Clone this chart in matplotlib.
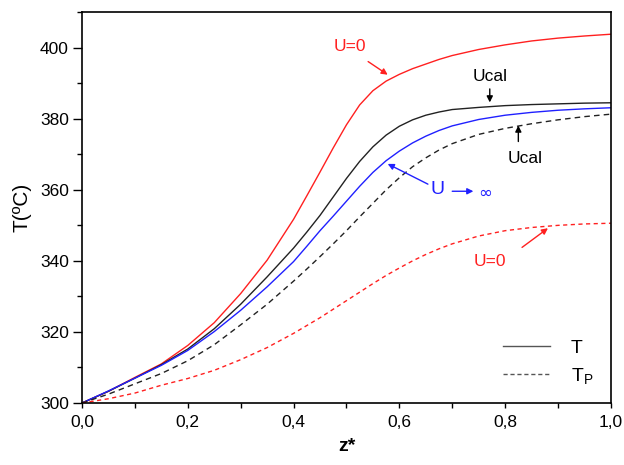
import matplotlib.pyplot as plt
from matplotlib.lines import Line2D
from matplotlib.ticker import FuncFormatter, MultipleLocator

plt.rcParams["font.family"] = ["Liberation Sans", "DejaVu Sans"]
plt.rcParams["mathtext.default"] = "regular"

# dimensionless reactor length
z = [0.0, 0.05, 0.1, 0.15, 0.2, 0.25, 0.3, 0.35, 0.4, 0.425, 0.45, 0.475,
     0.5, 0.525, 0.55, 0.575, 0.6, 0.625, 0.65, 0.675, 0.7, 0.75, 0.8,
     0.85, 0.9, 0.95, 1.0]

# gas temperature T
t_u0 = [300.0, 303.3, 307.2, 311.0, 316.2, 322.6, 330.8, 340.2, 351.7, 358.3,
        365.0, 371.8, 378.3, 383.9, 387.9, 390.6, 392.5, 394.1, 395.4, 396.7,
        397.8, 399.5, 400.8, 401.9, 402.7, 403.3, 403.8]
t_ucal = [300.0, 303.3, 307.0, 310.8, 315.2, 320.9, 327.8, 335.5, 343.6, 348.1,
          352.8, 358.0, 363.2, 368.0, 372.1, 375.4, 377.9, 379.7, 381.0, 381.9,
          382.6, 383.2, 383.7, 384.0, 384.2, 384.4, 384.5]
t_uinf = [300.0, 303.4, 307.0, 310.6, 314.8, 320.1, 326.1, 332.7, 339.8, 344.1,
          348.5, 352.6, 356.8, 361.0, 364.9, 368.2, 370.9, 373.2, 375.1, 376.7,
          378.0, 379.8, 381.0, 381.8, 382.4, 382.8, 383.1]

# particle temperature Tp
tp_u0 = [300.0, 301.2, 302.8, 305.0, 306.9, 309.2, 312.2, 315.6, 319.6, 321.8,
         324.0, 326.4, 328.8, 331.2, 333.6, 335.9, 338.0, 340.0, 341.8, 343.4,
         344.8, 347.0, 348.5, 349.4, 350.0, 350.4, 350.6]
tp_ucal = [300.0, 302.5, 305.4, 308.3, 311.9, 316.4, 322.0, 327.8, 334.3, 337.7,
           341.2, 344.8, 348.5, 352.4, 356.2, 360.0, 363.4, 366.5, 369.0, 371.2,
           373.0, 375.6, 377.3, 378.6, 379.7, 380.6, 381.3]

x_ticks = [0.0, 0.2, 0.4, 0.6, 0.8, 1.0]
y_ticks = [300, 320, 340, 360, 380, 400]

RED = "#ff2020"
BLACK = "#222222"
BLUE = "#2020ff"

fig = plt.figure(figsize=(6.24, 4.65), dpi=100)
ax = fig.add_axes([0.1314, 0.1333, 0.8476, 0.8405])

ax.plot(z, t_u0, color=RED, lw=1.0)
ax.plot(z, t_ucal, color=BLACK, lw=1.0)
ax.plot(z, t_uinf, color=BLUE, lw=1.0)
ax.plot(z, tp_ucal, color=BLACK, lw=1.0, dashes=(4, 3))
ax.plot(z, tp_u0, color=RED, lw=1.0, dashes=(3, 2.5))

ax.set_xlim(0, 1)
ax.set_ylim(300, 410)
ax.set_xticks(x_ticks)
ax.set_yticks(y_ticks)
ax.xaxis.set_minor_locator(MultipleLocator(0.1))
ax.yaxis.set_minor_locator(MultipleLocator(10))
ax.xaxis.set_major_formatter(FuncFormatter(lambda v, _: f"{v:.1f}".replace(".", ",")))
ax.tick_params(axis="both", which="both", direction="out", labelsize=12.5,
               top=False, right=False, width=1.0)
ax.tick_params(axis="x", which="both", length=3.5, pad=5)
ax.tick_params(axis="y", which="major", length=6.5, pad=3)
ax.tick_params(axis="y", which="minor", length=3.5)
for sp in ax.spines.values():
    sp.set_linewidth(1.2)

ax.set_xlabel("z*", fontsize=14, fontweight="bold", labelpad=6)
ax.set_ylabel("T(ºC)", fontsize=15, labelpad=6)

arrow = dict(arrowstyle="-|>", lw=1.0, mutation_scale=9, shrinkA=0, shrinkB=0)

ax.text(0.507, 400.3, "U=0", color=RED, fontsize=12.5, ha="center", va="center")
ax.annotate("", xy=(0.578, 392.4), xytext=(0.541, 396.1),
            arrowprops=dict(arrow, color=RED))

ax.text(0.771, 391.9, "Ucal", color="black", fontsize=12.5, ha="center", va="center")
ax.annotate("", xy=(0.771, 384.6), xytext=(0.771, 388.4),
            arrowprops=dict(arrow, color="black"))

ax.text(0.837, 368.9, "Ucal", color="black", fontsize=12.5, ha="center", va="center")
ax.annotate("", xy=(0.825, 378.1), xytext=(0.825, 373.6),
            arrowprops=dict(arrow, color="black"))

ax.text(0.673, 360.1, "U", color=BLUE, fontsize=14, ha="center", va="center")
ax.annotate("", xy=(0.578, 367.3), xytext=(0.654, 361.6),
            arrowprops=dict(arrow, color=BLUE))
ax.annotate("", xy=(0.740, 359.6), xytext=(0.700, 359.6),
            arrowprops=dict(arrow, color=BLUE))
ax.text(0.762, 359.2, "∞", color=BLUE, fontsize=12, ha="center", va="center",
        family=["DejaVu Sans"])

ax.text(0.771, 339.9, "U=0", color=RED, fontsize=12.5, ha="center", va="center")
ax.annotate("", xy=(0.881, 349.2), xytext=(0.832, 343.8),
            arrowprops=dict(arrow, color=RED))

handles = [
    Line2D([], [], color="#555555", lw=1.0),
    Line2D([], [], color="#555555", lw=1.0, dashes=(3, 2)),
]
ax.legend(handles, ["T", "T$_P$"], loc="lower right", bbox_to_anchor=(1.0, 0.0),
          frameon=False, fontsize=14, handlelength=2.4, handletextpad=1.1,
          labelspacing=0.45)

fig.savefig("out.png", dpi=100)
